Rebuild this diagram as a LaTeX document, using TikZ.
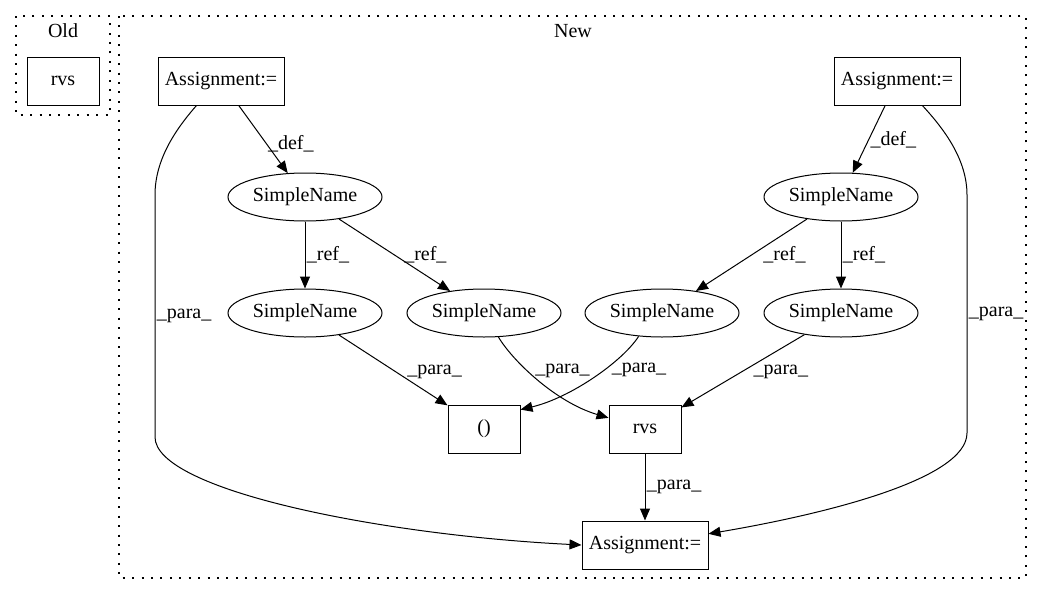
\documentclass[tikz,border=0pt]{standalone}
\usepackage{fontspec}
\setmainfont{Liberation Serif}
\usetikzlibrary{shapes.geometric, arrows.meta, positioning}

\begin{document}
\begin{tikzpicture}[
    x=0.7pt, y=-0.7pt,
    font=\fontsize{14}{16}\selectfont,
    >={Triangle[length=8.4pt, width=7pt]},
    stmt/.style={rectangle, draw, line width=0.7pt, minimum width=50.4pt, minimum height=33.6pt, inner sep=0pt},
    widestmt/.style={stmt, minimum width=88.2pt},
    simple/.style={ellipse, draw, line width=0.7pt, minimum width=107.8pt, minimum height=33.6pt, inner sep=0pt},
    link/.style={->, line width=0.7pt},
    lbl/.style={inner sep=1pt},
    cluster/.style={draw, line width=0.9pt, dash pattern=on 1.4pt off 5.2pt},
]
\useasboundingbox (0,0) rectangle (1043,596);

\draw[cluster] (16,16) rectangle (110,115);
\draw[cluster] (119,16) rectangle (1026,578);
\node (oldlbl) at (63,31) {Old};
\node (newlbl) at (573,31) {New};

\node[stmt] (oldrvs) at (63,81) {rvs};
\node[widestmt] (asg1) at (221,81) {Assignment:=};
\node[widestmt] (asg2) at (897,81) {Assignment:=};
\node[simple] (sn1) at (305,197) {SimpleName};
\node[simple] (sn2) at (841,197) {SimpleName};
\node[simple] (sn3) at (305,313) {SimpleName};
\node[simple] (sn4) at (484,313) {SimpleName};
\node[simple] (sn5) at (662,313) {SimpleName};
\node[simple] (sn6) at (841,313) {SimpleName};
\node[stmt] (tuple) at (484,429) {()};
\node[stmt] (rvs) at (645,429) {rvs};
\node[widestmt] (asg3) at (645,545) {Assignment:=};

\draw[link] (asg1) -- node[lbl, pos=0.56, right] {\_def\_} (sn1);
\draw[link] (asg2) -- node[lbl, pos=0.51, right] {\_def\_} (sn2);
\draw[link] (sn1) -- node[lbl, right] {\_ref\_} (sn3);
\draw[link] (sn1) -- node[lbl, right, xshift=5.5pt] {\_ref\_} (sn4);
\draw[link] (sn2) -- node[lbl, right, xshift=7pt] {\_ref\_} (sn5);
\draw[link] (sn2) -- node[lbl, right] {\_ref\_} (sn6);
\draw[link] (sn3) -- node[lbl, pos=0.52, right, xshift=7pt] {\_para\_} (tuple);
\draw[link] (sn6) -- node[lbl, pos=0.51, right, xshift=7pt] {\_para\_} (rvs);
\draw[link] (sn4.-59) .. controls (512,360) and (555,402) .. node[lbl, pos=0.4, right, xshift=4pt] {\_para\_} (rvs.163);
\draw[link] (sn5.-135) .. controls (622,362) and (570,398) .. node[lbl, pos=0.4, right, xshift=4pt] {\_para\_} (tuple.28);
\draw[link] (rvs) -- node[lbl, right] {\_para\_} (asg3);
\draw[link] (asg1.-135) .. controls (175,130) and (155,160) .. (155,195)
    -- node[lbl, right] {\_para\_} (155,437)
    .. controls (155,490) and (380,535) .. (asg3.west);
\draw[link] (asg2.-44) .. controls (945,130) and (967,160) .. (967,195)
    -- node[lbl, right] {\_para\_} (967,433)
    .. controls (967,480) and (820,515) .. (asg3.10);
\end{tikzpicture}
\end{document}
